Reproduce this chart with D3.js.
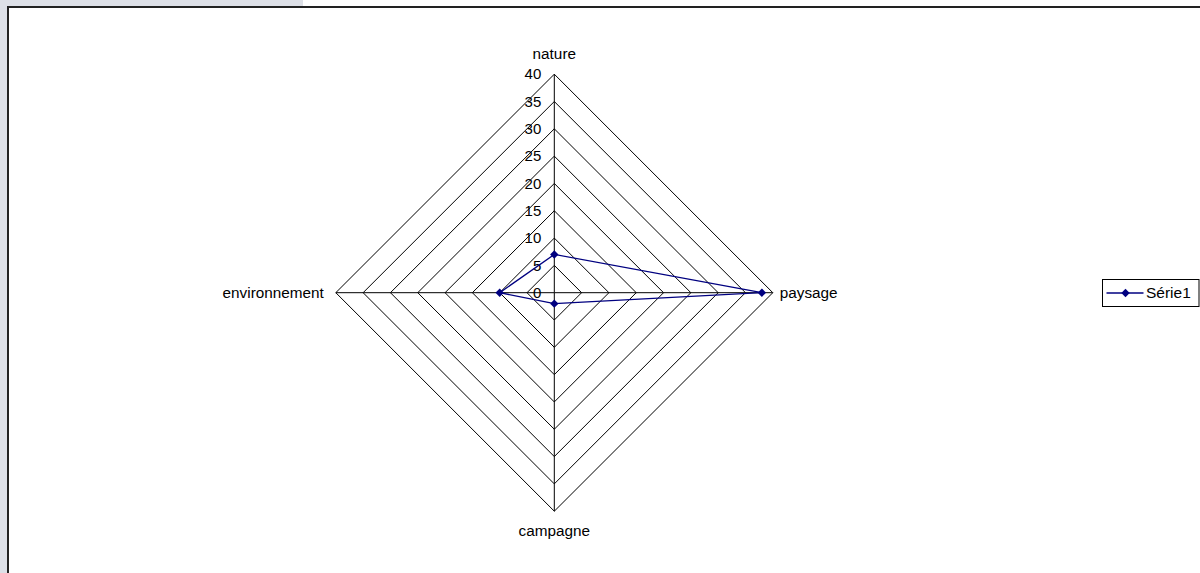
<!DOCTYPE html>
<html>
<head>
<meta charset="utf-8">
<script src="https://cdn.jsdelivr.net/npm/d3@7"></script>
<style>
  html, body { margin: 0; padding: 0; background: #ffffff; }
  svg { display: block; }
  text { font-family: "Liberation Sans", Arial, sans-serif; fill: #000; }
</style>
</head>
<body>
<svg id="chart" width="1200" height="573"></svg>
<script>
// ---- data ----
const categories = ["nature", "paysage", "campagne", "environnement"];
const seriesName = "Série1";
const seriesValues = [7, 38, 2, 10];
const tickValues = [0, 5, 10, 15, 20, 25, 30, 35, 40];
const tickLabels = ["0", "5", "10", "15", "20", "25", "30", "35", "40"];

const svg = d3.select("#chart");
const W = 1200, H = 573;

// background frame like the original
svg.append("rect").attr("x", 0).attr("y", 0).attr("width", 303).attr("height", 8).attr("fill", "#dde0e7");
svg.append("rect").attr("x", 0).attr("y", 0).attr("width", 8).attr("height", H).attr("fill", "#dde0e7");
svg.append("rect").attr("x", 8).attr("y", 7).attr("width", W).attr("height", H)
   .attr("fill", "#ffffff").attr("stroke", "#222").attr("stroke-width", 2);

const cx = 554.3, cy = 292.7, R = 218.5;
const r = d3.scaleLinear().domain([0, 40]).range([0, R]);
const angle = i => -Math.PI / 2 + i * 2 * Math.PI / categories.length;
const pt = (i, v) => [cx + r(v) * Math.cos(angle(i)), cy + r(v) * Math.sin(angle(i))];

const g = svg.append("g");

// grid polygons
tickValues.filter(t => t > 0).forEach(t => {
  const pts = categories.map((c, i) => pt(i, t));
  g.append("path")
    .attr("d", d3.line()(pts) + "Z")
    .attr("fill", "none").attr("stroke", "#000").attr("stroke-width", 1);
});

// axis spokes
categories.forEach((c, i) => {
  const [x, y] = pt(i, 40);
  g.append("line").attr("x1", cx).attr("y1", cy).attr("x2", x).attr("y2", y)
    .attr("stroke", "#000").attr("stroke-width", 1);
});

// tick labels along top axis
tickValues.forEach((t, k) => {
  g.append("text")
    .attr("x", cx - 13).attr("y", cy - r(t))
    .attr("dy", "0.35em")
    .attr("text-anchor", "end")
    .attr("font-size", 15)
    .text(tickLabels[k]);
});

// category labels
const labelPos = [
  { x: cx, y: cy - R - 15.5, anchor: "middle", dy: "0" },
  { x: cx + R + 7, y: cy, anchor: "start", dy: "0.35em" },
  { x: cx, y: cy + R + 24.5, anchor: "middle", dy: "0" },
  { x: cx - R - 12, y: cy, anchor: "end", dy: "0.35em" }
];
categories.forEach((c, i) => {
  g.append("text")
    .attr("x", labelPos[i].x).attr("y", labelPos[i].y)
    .attr("dy", labelPos[i].dy)
    .attr("text-anchor", labelPos[i].anchor)
    .attr("font-size", 15.3)
    .text(c);
});

// series
const color = "#000080";
const spts = seriesValues.map((v, i) => pt(i, v));
g.append("path")
  .attr("d", d3.line()(spts) + "Z")
  .attr("fill", "none").attr("stroke", color).attr("stroke-width", 1.3);

const diamond = d3.symbol().type(d3.symbolDiamond2).size(45);
spts.forEach(p => {
  g.append("path").attr("d", diamond())
    .attr("transform", `translate(${p[0]},${p[1]})`)
    .attr("fill", color);
});

// legend
const lg = svg.append("g");
lg.append("rect").attr("x", 1102.5).attr("y", 279.5).attr("width", 96.5).attr("height", 27)
  .attr("fill", "#fff").attr("stroke", "#000").attr("stroke-width", 1);
lg.append("line").attr("x1", 1106.5).attr("x2", 1143.5).attr("y1", 293).attr("y2", 293)
  .attr("stroke", color).attr("stroke-width", 1.3);
lg.append("path").attr("d", diamond())
  .attr("transform", "translate(1125.5,293)").attr("fill", color);
lg.append("text").attr("x", 1146).attr("y", 293).attr("dy", "0.35em")
  .attr("font-size", 15.5).text(seriesName);
</script>
</body>
</html>
